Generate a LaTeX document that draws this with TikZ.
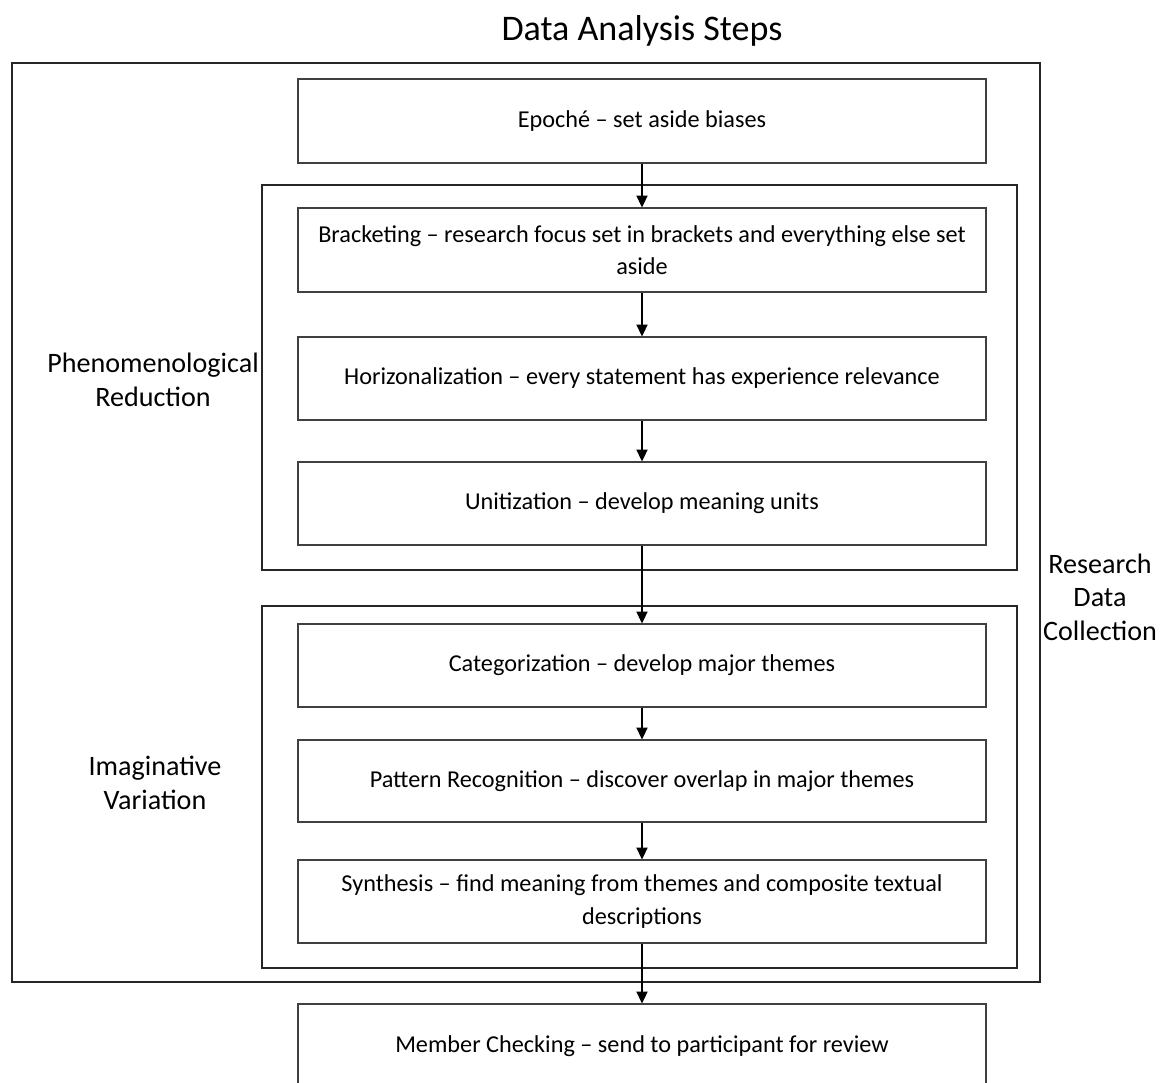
\documentclass[tikz,border=0pt]{standalone}
\usepackage{fontspec}
\setmainfont{Carlito}
\usetikzlibrary{arrows.meta, positioning}

\begin{document}
\begin{tikzpicture}[
    stepbox/.style={rectangle, draw=black!75, line width=0.6pt, minimum width=13.76cm, minimum height=1.68cm, align=center, font=\fontsize{13.8}{18.5}\selectfont},
    group/.style={rectangle, draw=black!85, line width=1.1pt, minimum width=15.1cm},
    lbl/.style={align=center, font=\fontsize{16}{19}\selectfont},
    flow/.style={line width=1.1pt, -{Triangle[width=6.3pt, length=6.8pt]}}
]
    \clip (0,0) rectangle (23.2,-21.64);

    \node[font=\fontsize{20.5}{24}\selectfont] (title) at (12.84,-0.62) {Data Analysis Steps};

    \node[rectangle, draw=black!85, line width=1.1pt, minimum width=20.56cm, minimum height=18.38cm] (outer) at (10.52,-10.45) {};
    \node[group, minimum height=7.7cm] (phen) at (12.79,-7.55) {};
    \node[group, minimum height=7.24cm] (imag) at (12.79,-15.74) {};

    \node[stepbox] (epoche) at (12.84,-2.42)  {Epoché – set aside biases};
    \node[stepbox] (brack)  at (12.84,-5.0)   {Bracketing – research focus set in brackets and everything else set\\aside};
    \node[stepbox, minimum height=1.66cm] (horiz) at (12.84,-7.57)  {Horizonalization – every statement has experience relevance};
    \node[stepbox, minimum height=1.66cm] (unit)  at (12.84,-10.07) {Unitization – develop meaning units};
    \node[stepbox, minimum height=1.66cm] (categ) at (12.84,-13.31) {Categorization – develop major themes};
    \node[stepbox, minimum height=1.64cm] (patt)  at (12.84,-15.62) {Pattern Recognition – discover overlap in major themes};
    \node[stepbox, minimum height=1.66cm] (synth) at (12.84,-18.03) {Synthesis – find meaning from themes and composite textual\\descriptions};
    \node[stepbox] (member) at (12.84,-20.92) {Member Checking – send to participant for review};

    \node[lbl] (phenlbl) at (3.06,-7.6)   {Phenomenological\\Reduction};
    \node[lbl] (imaglbl) at (3.1,-15.66)  {Imaginative\\Variation};
    \node[lbl] (datalbl) at (22.0,-11.94) {Research\\Data\\Collection};

    \draw[flow] (epoche) -- (brack);
    \draw[flow] (brack) -- (horiz);
    \draw[flow] (horiz) -- (unit);
    \draw[flow] (unit) -- (categ);
    \draw[flow] (categ) -- (patt);
    \draw[flow] (patt) -- (synth);
    \draw[flow] (synth) -- (member);
\end{tikzpicture}
\end{document}
